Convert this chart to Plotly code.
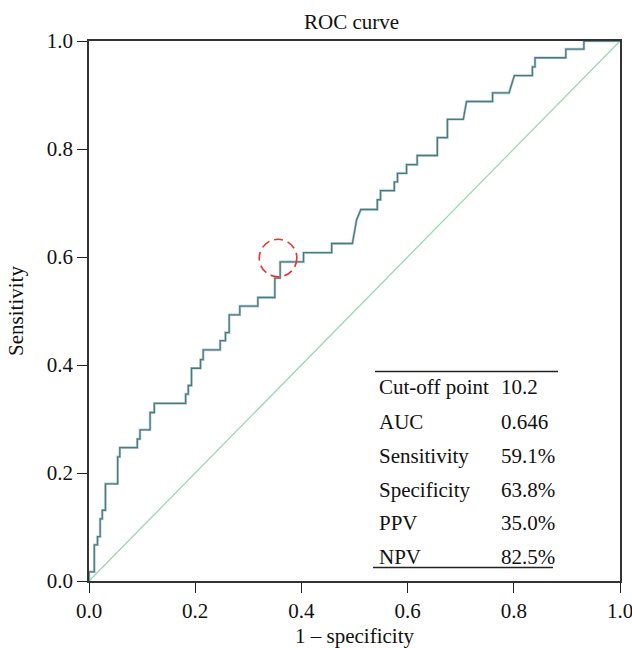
import plotly.graph_objects as go

# ROC curve vertices (1 - specificity, sensitivity)
fpr = [0.0, 0.0, 0.010, 0.010, 0.016, 0.016, 0.021, 0.021, 0.025, 0.025, 0.031, 0.031,
       0.054, 0.054, 0.058, 0.058, 0.091, 0.091, 0.096, 0.096, 0.115, 0.115, 0.123, 0.123,
       0.182, 0.182, 0.187, 0.187, 0.193, 0.193, 0.210, 0.210, 0.215, 0.215, 0.247, 0.247,
       0.257, 0.257, 0.264, 0.264, 0.284, 0.284, 0.318, 0.318, 0.350, 0.350, 0.360, 0.360,
       0.404, 0.404, 0.457, 0.457, 0.496, 0.504, 0.512, 0.543, 0.543, 0.549, 0.549, 0.575,
       0.575, 0.581, 0.581, 0.598, 0.598, 0.618, 0.618, 0.656, 0.656, 0.675, 0.675, 0.705,
       0.711, 0.760, 0.760, 0.791, 0.796, 0.801, 0.835, 0.835, 0.840, 0.840, 0.898, 0.898,
       0.932, 0.932, 1.0]
tpr = [0.0, 0.017, 0.017, 0.067, 0.067, 0.082, 0.082, 0.115, 0.115, 0.131, 0.131, 0.180,
       0.180, 0.230, 0.230, 0.247, 0.247, 0.263, 0.263, 0.280, 0.280, 0.312, 0.312, 0.329,
       0.329, 0.346, 0.346, 0.362, 0.362, 0.394, 0.394, 0.410, 0.410, 0.428, 0.428, 0.445,
       0.445, 0.460, 0.460, 0.493, 0.493, 0.509, 0.509, 0.525, 0.525, 0.561, 0.561, 0.591,
       0.591, 0.608, 0.608, 0.625, 0.625, 0.669, 0.688, 0.688, 0.706, 0.706, 0.723, 0.723,
       0.739, 0.739, 0.755, 0.755, 0.771, 0.771, 0.788, 0.788, 0.821, 0.821, 0.855, 0.855,
       0.888, 0.888, 0.904, 0.904, 0.920, 0.936, 0.936, 0.952, 0.952, 0.969, 0.969, 0.985,
       0.985, 1.0, 1.0]

ref_x = [0.0, 1.0]
ref_y = [0.0, 1.0]

cut_point = [0.356, 0.598]

table_labels = ["Cut-off point", "AUC", "Sensitivity", "Specificity", "PPV", "NPV"]
table_values = ["10.2", "0.646", "59.1%", "63.8%", "35.0%", "82.5%"]

tick_vals = [0.0, 0.2, 0.4, 0.6, 0.8, 1.0]
tick_text = ["0.0", "0.2", "0.4", "0.6", "0.8", "1.0"]

FONT = "Liberation Serif"
FS = 21
W, H = 632, 648
L, R, T, B = 89, 12, 41, 67
PW, PH = W - L - R, H - T - B


def px_x(px):
    return (px - L) / PW


def px_y(py):
    return (H - B - py) / PH


fig = go.Figure()
fig.add_trace(go.Scatter(x=ref_x, y=ref_y, mode="lines",
                         line=dict(color="#9dd5b3", width=1.3), hoverinfo="skip"))
fig.add_trace(go.Scatter(x=fpr, y=tpr, mode="lines",
                         line=dict(color="#b3cccf", width=2.6), hoverinfo="skip"))
fig.add_trace(go.Scatter(x=fpr, y=tpr, mode="lines",
                         line=dict(color="#4b7b82", width=1.3), hoverinfo="skip"))

# cut-off marker circle
rx = 18.8 / PW
ry = 18.8 / PH
fig.add_shape(type="circle", xref="x", yref="y",
              x0=cut_point[0] - rx, x1=cut_point[0] + rx,
              y0=cut_point[1] - ry, y1=cut_point[1] + ry,
              line=dict(color="#e8332f", width=1.6, dash="9px,5px"))

# table lines
fig.add_shape(type="line", xref="paper", yref="paper",
              x0=px_x(375), x1=px_x(558), y0=px_y(371.5), y1=px_y(371.5),
              line=dict(color="#222222", width=1.3))
fig.add_shape(type="line", xref="paper", yref="paper",
              x0=px_x(373), x1=px_x(553), y0=px_y(567.5), y1=px_y(567.5),
              line=dict(color="#222222", width=1.3))

row_y = [386.5, 421.5, 456.5, 490, 523, 556.5]
for lab, val, yy in zip(table_labels, table_values, row_y):
    fig.add_annotation(x=px_x(377), y=px_y(yy), xref="paper", yref="paper",
                       text=lab, showarrow=False, xanchor="left", yanchor="middle",
                       font=dict(family=FONT, size=FS, color="#111111"))
    fig.add_annotation(x=px_x(499), y=px_y(yy), xref="paper", yref="paper",
                       text=val, showarrow=False, xanchor="left", yanchor="middle",
                       font=dict(family=FONT, size=FS, color="#111111"))

# title
fig.add_annotation(x=px_x(351), y=px_y(22), xref="paper", yref="paper", text="ROC curve",
                   showarrow=False, xanchor="center", yanchor="middle",
                   font=dict(family=FONT, size=FS, color="#111111"))

axis_common = dict(range=[0, 1], tickvals=tick_vals, ticktext=tick_text,
                   ticks="outside", ticklen=10, tickwidth=1.3, tickcolor="#222222",
                   showline=True, linecolor="#333333", linewidth=1.5, mirror=True,
                   showgrid=False, zeroline=False, automargin=False,
                   ticklabeloverflow="allow",
                   tickfont=dict(family=FONT, size=FS, color="#111111"))

fig.update_xaxes(**axis_common,
                 title=dict(text="1 \u2013 specificity", standoff=8,
                            font=dict(family=FONT, size=FS, color="#111111")))
fig.update_yaxes(**axis_common,
                 title=dict(text="Sensitivity", standoff=17,
                            font=dict(family=FONT, size=FS, color="#111111")))

fig.update_layout(width=W, height=H, margin=dict(l=L, r=R, t=T, b=B, autoexpand=False),
                  plot_bgcolor="white", paper_bgcolor="white", showlegend=False)

fig.write_html("out.html", config={"displayModeBar": False},
               post_script="document.body.style.margin='0';document.body.style.padding='0';")
